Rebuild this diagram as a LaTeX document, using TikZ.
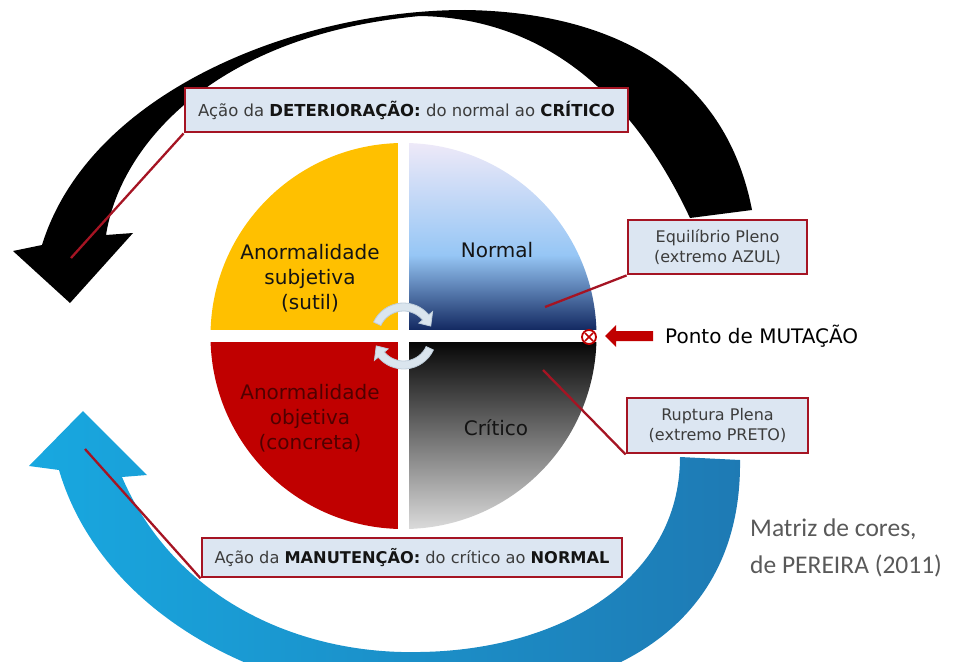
\documentclass[tikz,border=0pt]{standalone}
\usepackage{fontspec}
\setmainfont{DejaVu Sans}
\newfontfamily\calib{Carlito}
\usetikzlibrary{calc}

\definecolor{boxfill}{RGB}{220,230,242}
\definecolor{boxline}{RGB}{165,20,35}
\definecolor{qyellow}{RGB}{255,192,0}
\definecolor{qred}{RGB}{192,0,0}
\definecolor{cyanA}{RGB}{24,168,224}
\definecolor{cyanM}{RGB}{26,156,214}
\definecolor{cyanB}{RGB}{30,122,180}
\definecolor{nTop}{RGB}{240,234,248}
\definecolor{nUp}{RGB}{200,216,238}
\definecolor{nMid}{RGB}{150,198,245}
\definecolor{nDeep}{RGB}{40,85,160}
\definecolor{nBot}{RGB}{8,28,85}
\definecolor{gMid}{RGB}{150,150,150}
\definecolor{gBot}{RGB}{222,222,222}
\definecolor{txtg}{RGB}{60,60,60}
\definecolor{txtb}{RGB}{20,20,20}
\definecolor{redtxt}{RGB}{80,0,0}
\definecolor{carfill}{RGB}{218,229,238}
\definecolor{caredge}{RGB}{190,205,218}
\definecolor{grey59}{RGB}{89,89,89}

\begin{document}
\begin{tikzpicture}[x=1pt,y=-1pt,
  lbl/.style={draw=boxline, line width=2.8pt, fill=boxfill, inner sep=0pt,
              align=center, text=txtg},
  ptr/.style={draw=boxline, line width=2.3pt},
  quadtxt/.style={align=center, font=\fontsize{20}{25}\selectfont},
  carrow/.style={fill=carfill, draw=caredge, line width=0.8pt}]

\useasboundingbox (0,0) rectangle (955,661);
\clip (0,0) rectangle (955,661);

% black curved arrow (deterioration)
\fill[black] (752,210) .. controls (725,70) and (610,12) .. (465,10)
  .. controls (300,10) and (90,90) .. (42,245)
  -- (13,251) -- (70,303) -- (133,233) -- (106,235)
  .. controls (120,145) and (215,35) .. (420,16)
  .. controls (540,18) and (630,90) .. (690,218) -- cycle;

% blue curved arrow (maintenance)
\shade[left color=cyanA, middle color=cyanM, right color=cyanB]
  (740,460) .. controls (742,620) and (620,700) .. (430,700)
  .. controls (260,700) and (100,610) .. (59,470)
  -- (29,466) -- (83,411) -- (147,475) -- (122,477)
  .. controls (175,600) and (300,655) .. (420,652)
  .. controls (560,650) and (680,580) .. (680,457) -- cycle;

% colour matrix circle
\begin{scope}
  \clip (403.5,336) circle (193);
  \fill[qyellow] (200,130) rectangle (403.5,336);
  \fill[qred] (200,336) rectangle (403.5,540);
  \shade[top color=nTop, middle color=nUp, bottom color=nMid] (403.5,140) rectangle (600,255);
  \shade[top color=nMid, middle color=nDeep, bottom color=nBot] (403.5,255) rectangle (600,336);
  \shade[top color=black, middle color=gMid, bottom color=gBot] (403.5,336) rectangle (600,532);
\end{scope}
\fill[white] (398,130) rectangle (409,540);
\fill[white] (200,330) rectangle (605,342);

% central rotation arrows
\begin{scope}[shift={(403.5,336)}, x=1pt, y=1pt]
  \filldraw[carrow] (155:33) arc[start angle=155, end angle=40, radius=33]
    -- (40:38) -- (20:29) -- (40:20) -- (40:25)
    arc[start angle=40, end angle=155, radius=25] -- cycle;
  \filldraw[carrow] (-25:33) arc[start angle=-25, end angle=-140, radius=33]
    -- (-140:38) -- (-160:29) -- (-140:20) -- (-140:25)
    arc[start angle=-140, end angle=-25, radius=25] -- cycle;
\end{scope}

% quadrant texts
\node[quadtxt, text=txtb] (qsub) at (310,278) {Anormalidade\\subjetiva\\(sutil)};
\node[quadtxt, text=txtb] (qnor) at (497,250) {Normal};
\node[quadtxt, text=redtxt] (qobj) at (310,418) {Anormalidade\\objetiva\\(concreta)};
\node[quadtxt, text=txtb] (qcri) at (496,428) {Crítico};

% pointer targets
\coordinate (pT) at (71,258);
\coordinate (pE) at (545,307);
\coordinate (pR) at (543,370);
\coordinate (pB) at (85,449);

% label boxes
\node[lbl, minimum width=443pt, minimum height=44pt,
      font=\fontsize{16.5}{20}\selectfont] (boxT) at (406.5,110)
  {Ação da \textbf{\color{txtb}DETERIORAÇÃO:} do normal ao \textbf{\color{txtb}CRÍTICO}};
\node[lbl, minimum width=179pt, minimum height=54pt,
      font=\fontsize{16}{20}\selectfont] (boxE) at (717.5,247)
  {Equilíbrio Pleno\\(extremo AZUL)};
\node[lbl, minimum width=181pt, minimum height=55pt,
      font=\fontsize{16}{20}\selectfont] (boxR) at (717.5,425.5)
  {Ruptura Plena\\(extremo PRETO)};
\node[lbl, minimum width=420pt, minimum height=39pt,
      font=\fontsize{16.2}{20}\selectfont] (boxB) at (412,557.5)
  {Ação da \textbf{\color{txtb}MANUTENÇÃO:} do crítico ao \textbf{\color{txtb}NORMAL}};

\draw[ptr] (boxT.south west) -- (pT);
\draw[ptr] (boxE.south west) -- (pE);
\draw[ptr] (boxR.south west) -- (pR);
\draw[ptr] (boxB.south west) -- (pB);

% mutation point
\node[circle, draw=qred, line width=1.8pt, fill=white, minimum size=14pt, inner sep=0pt] (mut) at (589,337) {};
\draw[qred, line width=1.6pt] ($(mut.center)+(-4,-4)$) -- ($(mut.center)+(4,4)$);
\draw[qred, line width=1.6pt] ($(mut.center)+(-4,4)$) -- ($(mut.center)+(4,-4)$);
\fill[qred] (653,331) -- (616,331) -- (616,325) -- (605,336) -- (616,347) -- (616,341) -- (653,341) -- cycle;
\node[anchor=west, inner sep=0pt, font=\fontsize{20}{24}\selectfont, text=black] (ponto) at (665,336) {Ponto de MUTAÇÃO};

% source
\node[anchor=west, inner sep=0pt, align=left, text=grey59,
      font=\calib\fontsize{25.5}{37}\selectfont] (src) at (750,548)
  {Matriz de cores,\\de PEREIRA (2011)};
\end{tikzpicture}
\end{document}
